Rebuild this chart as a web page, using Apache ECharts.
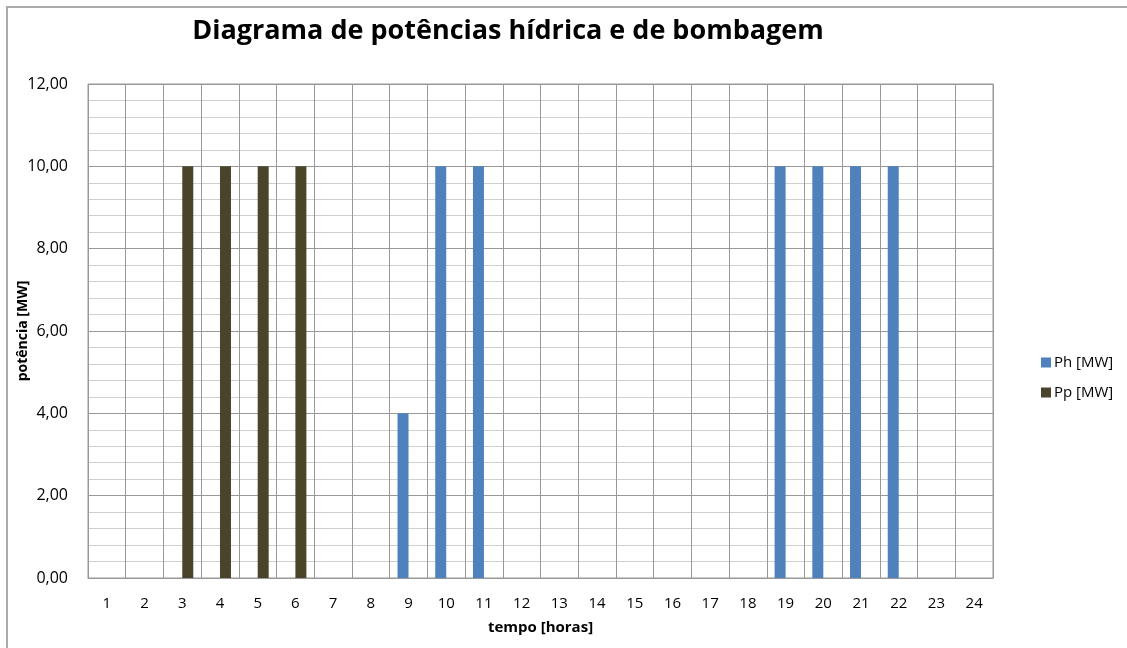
<!DOCTYPE html>
<html>
<head>
<meta charset="utf-8">
<script src="https://cdn.jsdelivr.net/npm/echarts@6/dist/echarts.min.js"></script>
<style>
    html, body { margin: 0; padding: 0; background: #fff; }
    #frame { position: absolute; left: 6px; top: 6px; width: 1125px; height: 646px;
             border-left: 2px solid #aaaaaa; border-top: 2px solid #aaaaaa; }
    #chart { position: absolute; left: 0; top: 0; width: 1127px; height: 648px; }
</style>
</head>
<body>
<div id="frame"></div>
<div id="chart"></div>
<script>
    // horas 1..24
    const hours = ["1", "2", "3", "4", "5", "6", "7", "8", "9", "10", "11", "12",
        "13", "14", "15", "16", "17", "18", "19", "20", "21", "22", "23", "24"];
    // potência hídrica [MW]
    const ph = [0, 0, 0, 0, 0, 0, 0, 0, 4, 10, 10, 0, 0, 0, 0, 0, 0, 0, 10, 10, 10, 10, 0, 0];
    // potência de bombagem [MW]
    const pp = [0, 0, 10, 10, 10, 10, 0, 0, 0, 0, 0, 0, 0, 0, 0, 0, 0, 0, 0, 0, 0, 0, 0, 0];

    const FONT = "'Open Sans', 'Liberation Sans', sans-serif";
    const fmt = (v) => v.toFixed(2).replace(".", ","); // 10 -> "10,00"

    const chart = echarts.init(document.getElementById("chart"));
    chart.setOption({
        animation: false,
        textStyle: {fontFamily: FONT},
        title: {
            text: "Diagrama de potências hídrica e de bombagem",
            left: 503, top: 13, textAlign: "center",
            textStyle: {fontSize: 27, fontWeight: "bold", color: "#000", fontFamily: FONT}
        },
        legend: {
            orient: "vertical", left: 1036, top: 350, itemGap: 15,
            itemWidth: 10, itemHeight: 10, icon: "rect",
            textStyle: {fontSize: 15, color: "#000", padding: [0, 0, 0, -2]},
            data: ["Ph [MW]", "Pp [MW]"]
        },
        grid: {left: 88, right: 134, top: 84, bottom: 70, show: true, borderColor: "#999", borderWidth: 1,
            containLabel: false, outerBoundsMode: "none"},
        xAxis: {
            type: "category", data: hours,
            name: "tempo [horas]", nameLocation: "middle", nameGap: 42, nameMoveOverlap: false,
            nameTextStyle: {fontSize: 15, fontWeight: "bold", color: "#000"},
            axisLine: {lineStyle: {color: "#999"}},
            axisTick: {show: false},
            axisLabel: {fontSize: 15, color: "#000", margin: 18},
            splitLine: {show: true, interval: 0, lineStyle: {color: "#999"}}
        },
        yAxis: {
            type: "value", min: 0, max: 12, interval: 2,
            name: "potência [MW]", nameLocation: "middle", nameGap: 58, nameRotate: 90,
            nameMoveOverlap: false,
            nameTextStyle: {fontSize: 14, fontWeight: "bold", color: "#000"},
            axisLine: {show: false}, axisTick: {show: false},
            axisLabel: {fontSize: 16, color: "#000", margin: 20, formatter: fmt},
            splitLine: {lineStyle: {color: "#999"}},
            minorTick: {show: false, splitNumber: 5},
            minorSplitLine: {show: true, lineStyle: {color: "#d0d0d0"}}
        },
        series: [
            {name: "Ph [MW]", type: "bar", data: ph, barWidth: 11, barGap: "0%",
                itemStyle: {color: "#4f81bd"}},
            {name: "Pp [MW]", type: "bar", data: pp, barWidth: 11,
                itemStyle: {color: "#4a452a"}}
        ]
    });
</script>
</body>
</html>
